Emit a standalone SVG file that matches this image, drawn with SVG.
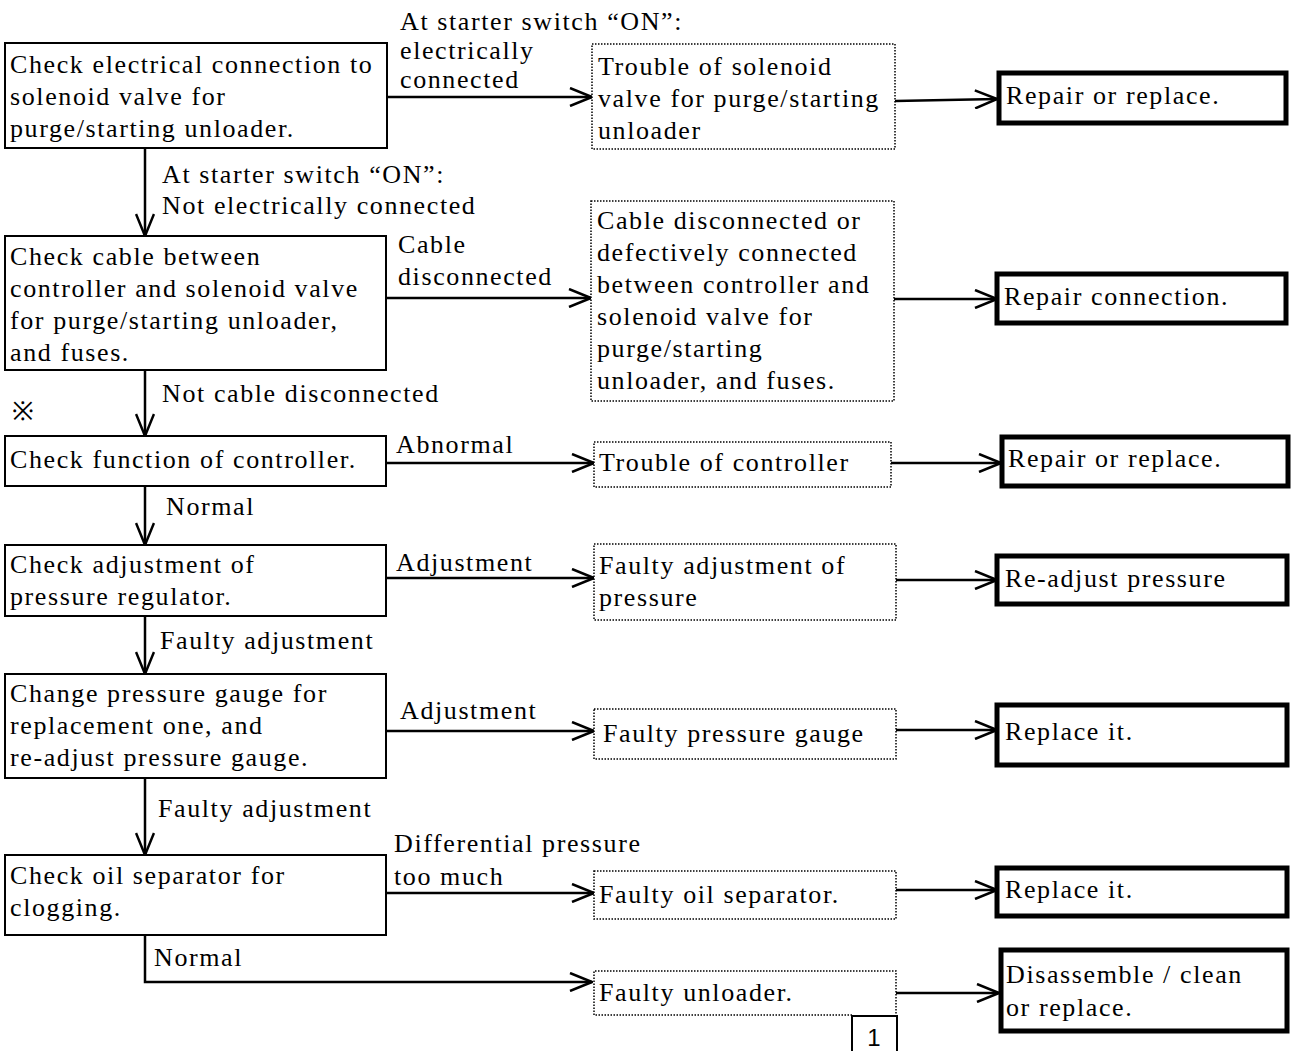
<svg xmlns="http://www.w3.org/2000/svg" width="1292" height="1051" viewBox="0 0 1292 1051">
<style>
text{font-family:"Liberation Serif","Times New Roman",serif;font-size:26px;letter-spacing:1.6px;fill:#000}
.s{fill:#fff;stroke:#000;stroke-width:2}
.d{fill:#fff;stroke:#000;stroke-width:1.5;stroke-dasharray:1.5,1.5}
.t{fill:#fff;stroke:#000;stroke-width:5}
.c{fill:none;stroke:#000;stroke-width:2.5}
</style>
<defs>
<marker id="a" viewBox="0 0 24 20" refX="23" refY="10" markerWidth="24" markerHeight="20" markerUnits="userSpaceOnUse" orient="auto">
<path d="M1,1 L23,10 L1,19" fill="none" stroke="#000" stroke-width="2.5"/>
</marker>
</defs>
<rect width="1292" height="1051" fill="#fff"/>
<g id="connectors">
<path class="c" d="M145,148 V236" marker-end="url(#a)"/>
<path class="c" d="M145,370 V436" marker-end="url(#a)"/>
<path class="c" d="M145,486 V545" marker-end="url(#a)"/>
<path class="c" d="M145,616 V674" marker-end="url(#a)"/>
<path class="c" d="M145,778 V855" marker-end="url(#a)"/>
<path class="c" d="M145,935 V982 H592" marker-end="url(#a)"/>
<path class="c" d="M387,97 H592" marker-end="url(#a)"/>
<path class="c" d="M386,298 H591" marker-end="url(#a)"/>
<path class="c" d="M386,463 H594" marker-end="url(#a)"/>
<path class="c" d="M386,578 H594" marker-end="url(#a)"/>
<path class="c" d="M386,731 H594" marker-end="url(#a)"/>
<path class="c" d="M386,893 H594" marker-end="url(#a)"/>
<path class="c" d="M895,101 L997,99" marker-end="url(#a)"/>
<path class="c" d="M894,299 H997" marker-end="url(#a)"/>
<path class="c" d="M891,463 H1001" marker-end="url(#a)"/>
<path class="c" d="M896,580 H997" marker-end="url(#a)"/>
<path class="c" d="M896,730 H997" marker-end="url(#a)"/>
<path class="c" d="M896,890 H997" marker-end="url(#a)"/>
<path class="c" d="M896,993 H999" marker-end="url(#a)"/>
<text x="400" y="30">At starter switch “ON”:</text>
<text x="400" y="59">electrically</text>
<text x="400" y="88">connected</text>
<text x="162" y="183">At starter switch “ON”:</text>
<text x="162" y="214">Not electrically connected</text>
<text x="398" y="253">Cable</text>
<text x="398" y="285">disconnected</text>
<text x="162" y="402">Not cable disconnected</text>
<text x="12" y="420">※</text>
<text x="396" y="453">Abnormal</text>
<text x="166" y="515">Normal</text>
<text x="396" y="571">Adjustment</text>
<text x="160" y="649">Faulty adjustment</text>
<text x="400" y="719">Adjustment</text>
<text x="158" y="817">Faulty adjustment</text>
<text x="394" y="852">Differential pressure</text>
<text x="394" y="885">too much</text>
<text x="154" y="966">Normal</text>
</g>
<g id="n1"><rect class="s" x="5" y="43" width="382" height="105"/>
<text x="10" y="73">Check electrical connection to</text><text x="10" y="105">solenoid valve for</text><text x="10" y="137">purge/starting unloader.</text></g>
<g id="n2"><rect class="s" x="5" y="236" width="381" height="134"/>
<text x="10" y="265">Check cable between</text><text x="10" y="297">controller and solenoid valve</text><text x="10" y="329">for purge/starting unloader,</text><text x="10" y="361">and fuses.</text></g>
<g id="n3"><rect class="s" x="5" y="436" width="381" height="50"/>
<text x="10" y="468">Check function of controller.</text></g>
<g id="n4"><rect class="s" x="5" y="545" width="381" height="71"/>
<text x="10" y="573">Check adjustment of</text><text x="10" y="605">pressure regulator.</text></g>
<g id="n5"><rect class="s" x="5" y="674" width="381" height="104"/>
<text x="10" y="702">Change pressure gauge for</text><text x="10" y="734">replacement one, and</text><text x="10" y="766">re-adjust pressure gauge.</text></g>
<g id="n6"><rect class="s" x="5" y="855" width="381" height="80"/>
<text x="10" y="884">Check oil separator for</text><text x="10" y="916">clogging.</text></g>
<g id="m1"><rect class="d" x="592" y="44" width="303" height="105"/>
<text x="598" y="75">Trouble of solenoid</text><text x="598" y="107">valve for purge/starting</text><text x="598" y="139">unloader</text></g>
<g id="m2"><rect class="d" x="591" y="201" width="303" height="200"/>
<text x="597" y="229">Cable disconnected or</text><text x="597" y="261">defectively connected</text><text x="597" y="293">between controller and</text><text x="597" y="325">solenoid valve for</text><text x="597" y="357">purge/starting</text><text x="597" y="389">unloader, and fuses.</text></g>
<g id="m3"><rect class="d" x="594" y="442" width="297" height="45"/>
<text x="599" y="471">Trouble of controller</text></g>
<g id="m4"><rect class="d" x="594" y="544" width="302" height="76"/>
<text x="599" y="574">Faulty adjustment of</text><text x="599" y="606">pressure</text></g>
<g id="m5"><rect class="d" x="594" y="709" width="302" height="50"/>
<text x="603" y="742">Faulty pressure gauge</text></g>
<g id="m6"><rect class="d" x="594" y="871" width="302" height="48"/>
<text x="599" y="903">Faulty oil separator.</text></g>
<g id="m7"><path class="d" d="M852,1015 H594 V971 H896 V1015"/>
<text x="599" y="1001">Faulty unloader.</text></g>
<g id="page"><path d="M852,1051 V1016 H897 V1051" fill="none" stroke="#000" stroke-width="2"/>
<text x="874" y="1046" text-anchor="middle" style="font-family:'Liberation Sans',Arial,sans-serif;font-size:24px;letter-spacing:0">1</text></g>
<g id="r1"><rect class="t" x="999" y="73" width="287" height="50"/><text x="1006" y="104">Repair or replace.</text></g>
<g id="r2"><rect class="t" x="997" y="274" width="289" height="49"/><text x="1004" y="305">Repair connection.</text></g>
<g id="r3"><rect class="t" x="1002" y="437" width="286" height="49"/><text x="1008" y="467">Repair or replace.</text></g>
<g id="r4"><rect class="t" x="997" y="556" width="290" height="48"/><text x="1005" y="587">Re‐adjust pressure</text></g>
<g id="r5"><rect class="t" x="997" y="705" width="290" height="60"/><text x="1005" y="740">Replace it.</text></g>
<g id="r6"><rect class="t" x="997" y="868" width="290" height="48"/><text x="1005" y="898">Replace it.</text></g>
<g id="r7"><rect class="t" x="1001" y="950" width="286" height="81"/><text x="1006" y="983">Disassemble / clean</text><text x="1006" y="1016">or replace.</text></g>
</svg>
